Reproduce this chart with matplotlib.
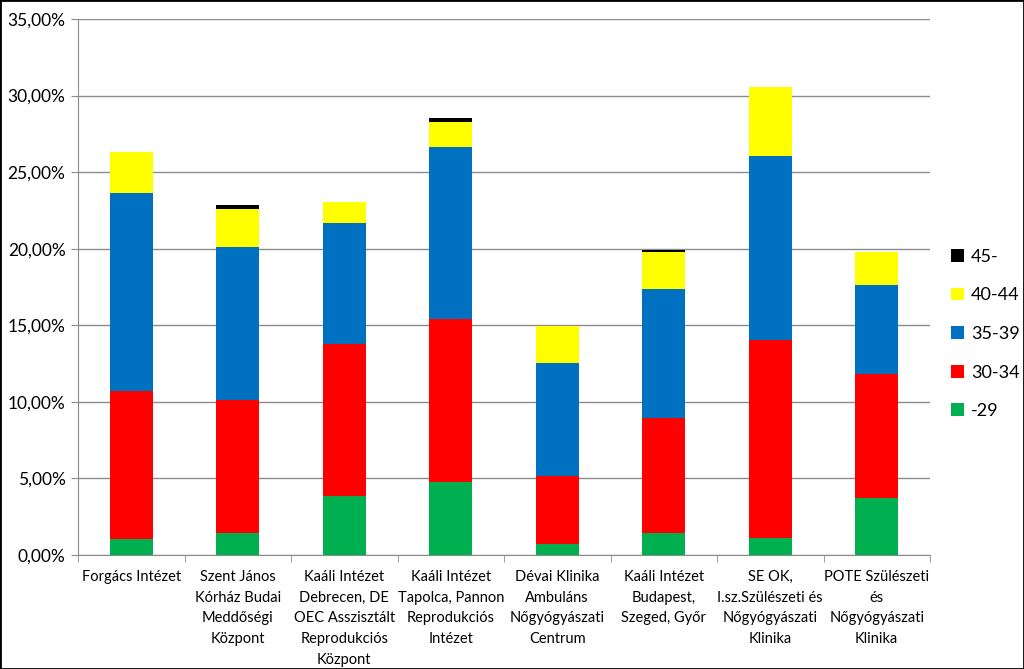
import matplotlib
matplotlib.use("Agg")
import matplotlib.pyplot as plt
from matplotlib.ticker import FuncFormatter, FixedLocator
from matplotlib.patches import Rectangle
import numpy as np

plt.rcParams['font.family'] = ['Lato', 'DejaVu Sans']

categories = [
    "Forgács Intézet",
    "Szent János\nKórház Budai\nMeddőségi\nKözpont",
    "Kaáli Intézet\nDebrecen, DE\nOEC Asszisztált\nReprodukciós\nKözpont",
    "Kaáli Intézet\nTapolca, Pannon\nReprodukciós\nIntézet",
    "Dévai Klinika\nAmbuláns\nNőgyógyászati\nCentrum",
    "Kaáli Intézet\nBudapest,\nSzeged, Győr",
    "SE OK,\nI.sz.Szülészeti és\nNőgyógyászati\nKlinika",
    "POTE Szülészeti\nés\nNőgyógyászati\nKlinika",
]
series_names = ["-29", "30-34", "35-39", "40-44", "45-"]
s_29 = [1.07, 1.46, 3.88, 4.75, 0.70, 1.46, 1.13, 3.75]
s_30_34 = [9.65, 8.65, 9.91, 10.67, 4.48, 7.51, 12.94, 8.04]
s_35_39 = [12.92, 10.00, 7.87, 11.20, 7.35, 8.42, 12.01, 5.81]
s_40_44 = [2.66, 2.48, 1.39, 1.64, 2.44, 2.41, 4.46, 2.16]
s_45 = [0.0, 0.27, 0.0, 0.30, 0.0, 0.13, 0.0, 0.0]
colors = ["#00B050", "#FF0000", "#0070C0", "#FFFF00", "#000000"]

series = [s_29, s_30_34, s_35_39, s_40_44, s_45]

fig = plt.figure(figsize=(10.24, 6.69), dpi=100)
ax = fig.add_axes([78/1024, 1-555/669, (930-78)/1024, (555-19)/669])

x = np.arange(len(categories))
bottom = np.zeros(len(categories))
handles = []
for name, vals, c in zip(series_names, series, colors):
    v = np.array(vals)
    b = ax.bar(x, v, 0.4, bottom=bottom, color=c, label=name, zorder=3)
    handles.append(b)
    bottom += v

ax.set_xlim(-0.5, len(categories) - 0.5)
ax.set_ylim(0, 35)
ax.set_yticks(np.arange(0, 36, 5))
ax.yaxis.set_major_formatter(FuncFormatter(lambda v, p: f"{v:.2f}%".replace(".", ",")))
ax.grid(axis='y', color='#8c8c8c', linewidth=1.0, zorder=0)
ax.set_axisbelow(True)

ax.set_xticks(x)
ax.set_xticklabels(categories, fontsize=10.5, linespacing=1.6, va='top')
ax.tick_params(axis='x', length=0, pad=11)
ax.xaxis.set_minor_locator(FixedLocator(np.arange(-0.5, len(categories), 1.0)))
ax.tick_params(axis='x', which='minor', length=5, color='#8c8c8c')
ax.tick_params(axis='y', labelsize=12.5, length=5, color='#8c8c8c', pad=4)

for s in ['top', 'right']:
    ax.spines[s].set_visible(False)
for s in ['left', 'bottom']:
    ax.spines[s].set_color('#8c8c8c')

leg = fig.legend(handles[::-1], series_names[::-1], loc='center left',
                 bbox_to_anchor=(935/1024, 1-334/669), frameon=False,
                 fontsize=13, handlelength=0.7, handleheight=0.7,
                 labelspacing=1.25, handletextpad=0.4)

fig.patches.append(Rectangle((0, 0), 1, 1, transform=fig.transFigure,
                             fill=False, edgecolor='black', linewidth=2))

fig.savefig("out.png", dpi=100)
